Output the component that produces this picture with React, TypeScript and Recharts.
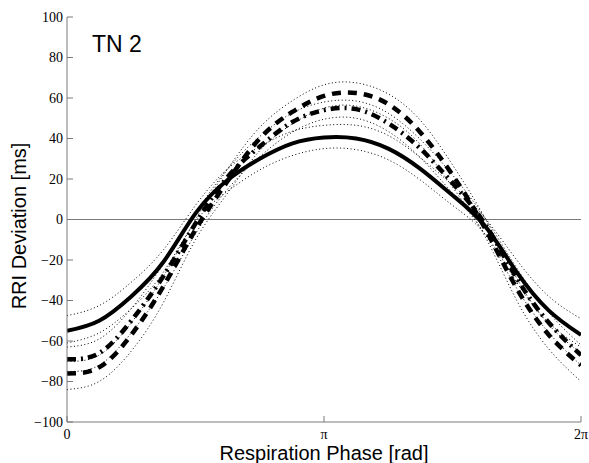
import { LineChart, Line, XAxis, YAxis, ReferenceLine } from "recharts";

// sample grid: every pi/8 over one respiration cycle
const PHASE = [0, 0.3927, 0.7854, 1.1781, 1.5708, 1.9635, 2.3562, 2.7489, 3.1416, 3.5343, 3.927, 4.3197, 4.7124, 5.1051, 5.4978, 5.8905, 6.2831];

// thick solid curve and its dotted bands
const SOLID = [-55, -50, -38, -21, 3, 19.5, 30, 37.5, 40.5, 40, 35, 25, 12, -3, -26, -45, -57];
const SOLID_HI = [-47.5, -42.5, -31, -15, 7, 25, 36, 43.5, 46.5, 46.5, 41.5, 30.5, 17, 1, -20, -38, -49];
const SOLID_LO = [-61, -56, -44, -26, -1, 14, 24.5, 31.5, 35, 34.5, 29.5, 19.5, 7, -7, -31, -51, -63];

// thick dashed curve and its dotted bands
const DASHED = [-76, -73, -57, -33, -5, 19, 40, 53, 61, 62.5, 57, 43, 22, -4, -34, -57, -72];
const DASHED_HI = [-70, -67, -51, -28, 0, 25, 45.5, 58.5, 66.5, 67.5, 62, 49, 27, 1, -29, -52, -66];
const DASHED_LO = [-84, -80, -65, -41, -10, 13, 34, 47, 55, 56, 50, 37, 16, -8, -40, -64, -80];

// thick dash-dot curve and its dotted bands
const DASHDOT = [-69, -66, -50, -28, -2, 21, 36, 48, 54, 54.5, 47.5, 35, 18, -2, -29, -51, -67];
const DASHDOT_HI = [-63, -59, -44, -22, 3, 25, 41, 52.5, 58, 58.5, 52.5, 39.5, 22, 1, -24, -46, -62];
const DASHDOT_LO = [-75, -72, -56, -34, -7, 15, 31, 43, 49.5, 50, 43.5, 30.5, 13, -7, -34, -56, -72];

const Y_TICKS = [-100, -80, -60, -40, -20, 0, 20, 40, 60, 80, 100];
const X_MAX = 6.2831;
const X_TICKS = [0, Math.PI, X_MAX];
const X_LABELS = ["0", "π", "2π"];

const AXIS = "#7a7a7a";
const SERIF = "'Liberation Serif', 'DejaVu Serif', serif";
const SANS = "'Liberation Sans', Arial, sans-serif";
const TM = 4; // gap between tick label and axis
const TL = 6; // inward tick length

const fmtY = (v: number) => (v < 0 ? `\u2212${Math.abs(v)}` : `${v}`);

function LeftTick(props: any) {
  const { x, y, payload } = props;
  return (
    <g>
      <text x={x} y={y} textAnchor="end" dominantBaseline="central" fontFamily={SERIF} fontSize={14} fill="#000">
        {fmtY(payload.value)}
      </text>
      <line x1={x + TM} x2={x + TM + TL} y1={y} y2={y} stroke={AXIS} />
    </g>
  );
}

function RightTick(props: any) {
  const { x, y } = props;
  return <line x1={x - TL} x2={x} y1={y} y2={y} stroke={AXIS} />;
}

function BottomTick(props: any) {
  const { x, y, index } = props;
  return (
    <g>
      <text x={x} y={y} dy="0.75em" textAnchor="middle" fontFamily={SERIF} fontSize={14} fill="#000">
        {X_LABELS[index]}
      </text>
      <line x1={x} x2={x} y1={y - TM - 2} y2={y - TM - 2 - TL} stroke={AXIS} />
    </g>
  );
}

function TopTick(props: any) {
  const { x, y } = props;
  return <line x1={x} x2={x} y1={y} y2={y + TL} stroke={AXIS} />;
}

function YLabel() {
  return (
    <text transform="translate(26, 226) rotate(-90)" textAnchor="middle" fontFamily={SANS} fontSize={20} fill="#000">
      RRI Deviation [ms]
    </text>
  );
}

export default function App() {
  const data = PHASE.map((p, i) => ({
    phase: p,
    s: SOLID[i],
    sHi: SOLID_HI[i],
    sLo: SOLID_LO[i],
    d: DASHED[i],
    dHi: DASHED_HI[i],
    dLo: DASHED_LO[i],
    dd: DASHDOT[i],
    ddHi: DASHDOT_HI[i],
    ddLo: DASHDOT_LO[i],
  }));

  const dotted = ["sHi", "sLo", "dHi", "dLo", "ddHi", "ddLo"];

  return (
    <div style={{ position: "absolute", left: 0, top: 0, width: 589, height: 463, background: "#fff" }}>
      <LineChart width={589} height={463} data={data} margin={{ top: 17, right: 8, bottom: 0, left: 0 }}>
        <XAxis
          dataKey="phase"
          type="number"
          domain={[0, X_MAX]}
          allowDataOverflow
          ticks={X_TICKS}
          interval={0}
          height={41}
          tickSize={0}
          tickMargin={TM + 2}
          tick={<BottomTick />}
          axisLine={{ stroke: AXIS }}
          label={{ value: "Respiration Phase [rad]", position: "insideBottom", offset: 3, fontFamily: SANS, fontSize: 20, fill: "#000" }}
        />
        <XAxis
          xAxisId="t"
          orientation="top"
          dataKey="phase"
          type="number"
          domain={[0, X_MAX]}
          allowDataOverflow
          ticks={X_TICKS}
          interval={0}
          height={0}
          tickSize={0}
          tickMargin={0}
          tick={<TopTick />}
          axisLine={{ stroke: AXIS }}
        />
        <YAxis
          type="number"
          domain={[-100, 100]}
          ticks={Y_TICKS}
          interval={0}
          width={67}
          tickSize={0}
          tickMargin={TM}
          tick={<LeftTick />}
          axisLine={{ stroke: AXIS }}
          label={<YLabel />}
        />
        <YAxis
          yAxisId="r"
          orientation="right"
          type="number"
          domain={[-100, 100]}
          ticks={Y_TICKS}
          interval={0}
          width={0}
          tickSize={0}
          tickMargin={0}
          tick={<RightTick />}
          axisLine={{ stroke: AXIS }}
        />
        <ReferenceLine y={0} stroke={AXIS} strokeWidth={1} />
        {dotted.map((k) => (
          <Line
            key={k}
            type="natural"
            dataKey={k}
            stroke="#000"
            strokeWidth={1}
            strokeDasharray="1 2.5"
            dot={false}
            isAnimationActive={false}
          />
        ))}
        <Line type="natural" dataKey="s" stroke="#000" strokeWidth={4} dot={false} isAnimationActive={false} />
        <Line type="natural" dataKey="d" stroke="#000" strokeWidth={4.5} strokeDasharray="9 7" dot={false} isAnimationActive={false} />
        <Line type="natural" dataKey="dd" stroke="#000" strokeWidth={4.5} strokeDasharray="9 5 2 5" dot={false} isAnimationActive={false} />
      </LineChart>
      <div style={{ position: "absolute", left: 92, top: 33, fontFamily: SANS, fontSize: 23, color: "#000", lineHeight: 1 }}>
        TN 2
      </div>
    </div>
  );
}
